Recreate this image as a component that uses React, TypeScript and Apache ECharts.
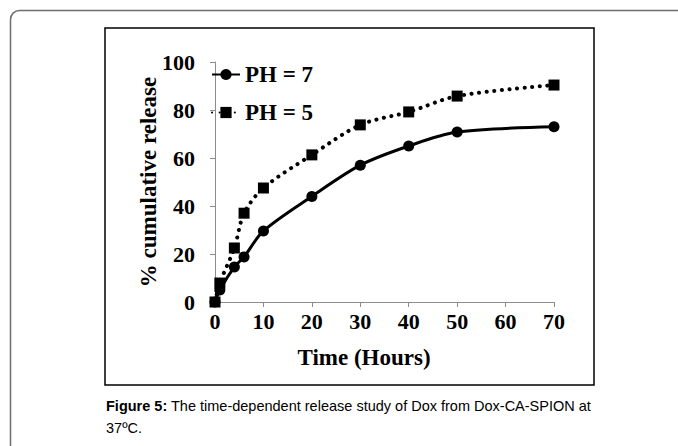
import React, { useEffect, useRef } from "react";
import * as echarts from "echarts";

const timeHours = [0, 1, 4, 6, 10, 20, 30, 40, 50, 70];
const releasePH7 = [0, 5, 14.6, 18.8, 29.6, 44, 57, 65, 70.8, 73];
const releasePH5 = [0, 7.9, 22.5, 37, 47.5, 61.3, 73.8, 79.2, 85.8, 90.4];
const seriesNames = ["PH = 7", "PH = 5"];
const xTitle = "Time (Hours)";
const yTitle = "% cumulative release";
const captionBold = "Figure 5:";
const captionLine1 = " The time-dependent release study of Dox from Dox-CA-SPION at";
const captionLine2 = "37ºC.";

const serif = '"Liberation Serif", "Times New Roman", serif';
const sans = '"Liberation Sans", Arial, sans-serif';

export default function App() {
  const ref = useRef<HTMLDivElement>(null);
  useEffect(() => {
    if (!ref.current) return;
    const chart = echarts.init(ref.current, null, { renderer: "svg" });
    const pairs = (ys: number[]) => timeHours.map((x, i) => [x, ys[i]]);
    chart.setOption({
      animation: false,
      backgroundColor: "#ffffff",
      grid: { left: 215, right: 124, top: 62, bottom: 144, containLabel: false },
      legend: {
        orient: "vertical",
        left: 206,
        top: 58,
        itemWidth: 28,
        itemHeight: 14,
        itemGap: 15,
        textStyle: { fontFamily: serif, fontWeight: "bold", fontSize: 23, color: "#000" },
        data: seriesNames,
      },
      xAxis: {
        type: "value",
        min: 0,
        max: 70,
        interval: 10,
        axisLine: { show: true, lineStyle: { color: "#8c8c8c", width: 1 } },
        axisTick: { show: true, inside: false, length: 5, lineStyle: { color: "#8c8c8c" } },
        splitLine: { show: false },
        axisLabel: { fontFamily: serif, fontWeight: "bold", fontSize: 22, color: "#000", margin: 8 },
      },
      yAxis: {
        type: "value",
        min: 0,
        max: 100,
        interval: 20,
        axisLine: { show: true, lineStyle: { color: "#8c8c8c", width: 1 } },
        axisTick: { show: true, inside: false, length: 5, lineStyle: { color: "#8c8c8c" } },
        splitLine: { show: false },
        axisLabel: { fontFamily: serif, fontWeight: "bold", fontSize: 22, color: "#000", margin: 20 },
      },
      series: [
        {
          name: seriesNames[0],
          type: "line",
          smooth: 0.3,
          data: pairs(releasePH7),
          symbol: "circle",
          symbolSize: 11,
          itemStyle: { color: "#000" },
          lineStyle: { color: "#000", width: 3 },
          z: 3,
        },
        {
          name: seriesNames[1],
          type: "line",
          smooth: 0.3,
          data: pairs(releasePH5),
          symbol: "rect",
          symbolSize: 11,
          itemStyle: { color: "#000" },
          lineStyle: { color: "#000", width: 4, type: [0.1, 7.5], cap: "round" },
          z: 2,
        },
      ],
      graphic: [
        {
          type: "rect",
          silent: true,
          z: -10,
          shape: { x: 10.5, y: 10.5, width: 720, height: 500, r: 9 },
          style: { fill: "none", stroke: "#6e6e6e", lineWidth: 1.5 },
        },
        {
          type: "rect",
          silent: true,
          z: -10,
          shape: { x: 105, y: 28, width: 489, height: 357 },
          style: { fill: "none", stroke: "#000", lineWidth: 1.5 },
        },
        {
          type: "text",
          x: 364,
          y: 357,
          style: {
            text: xTitle,
            font: `bold 23px ${serif}`,
            fill: "#000",
            align: "center",
            verticalAlign: "middle",
          },
        },
        {
          type: "text",
          x: 148,
          y: 182,
          rotation: Math.PI / 2,
          style: {
            text: yTitle,
            font: `bold 23px ${serif}`,
            fill: "#000",
            align: "center",
            verticalAlign: "middle",
          },
        },
        {
          type: "text",
          x: 106,
          y: 406,
          style: {
            text: `{b|${captionBold}}{r|${captionLine1}}`,
            verticalAlign: "middle",
            rich: {
              b: { font: `bold 14.5px ${sans}`, fill: "#000" },
              r: { font: `14.5px ${sans}`, fill: "#000" },
            },
          },
        },
        {
          type: "text",
          x: 106,
          y: 428,
          style: {
            text: captionLine2,
            font: `14.5px ${sans}`,
            fill: "#000",
            verticalAlign: "middle",
          },
        },
      ],
    });
    return () => chart.dispose();
  }, []);
  return (
    <div
      ref={ref}
      style={{ position: "fixed", left: 0, top: 0, width: 678, height: 446 }}
    />
  );
}
